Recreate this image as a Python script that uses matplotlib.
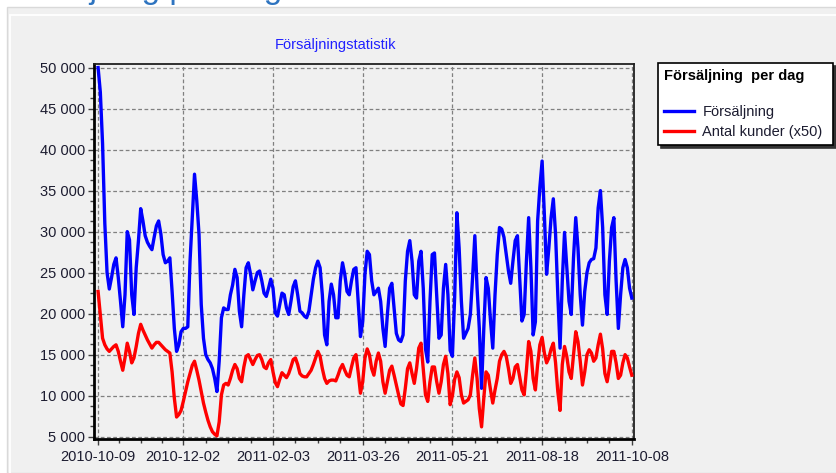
## Försäljningsstatistik per dag

import matplotlib.pyplot as plt
import numpy as np
from matplotlib.patches import Rectangle
from matplotlib.ticker import MultipleLocator, AutoMinorLocator, FuncFormatter

plt.rcParams['font.family'] = ['Liberation Sans', 'DejaVu Sans']

# datum på x-axeln (index i dataserien)
datum = ['2010-10-09', '2010-12-02', '2011-02-03', '2011-03-26',
         '2011-05-21', '2011-08-18', '2011-10-08']
datum_pos = [0, 38, 78, 118, 158, 198, 238]

# försäljning per dag (kr)
forsaljning = [
    50000, 47000, 40700, 31000, 25000, 23000, 24400, 26000, 26800, 24400,
    21500, 18400, 22300, 30000, 29000, 22300, 19900, 25600, 28900, 32800,
    31300, 29500, 28700, 28200, 27800, 29300, 30700, 31300, 29700, 27200,
    26200, 26400, 26800, 22700, 18200, 15400, 16200, 17800, 18200, 18200,
    18400, 26400, 31700, 37000, 33800, 29700, 21100, 17000, 15000, 14400,
    14000, 13300, 12100, 10500, 14200, 19500, 20700, 20500, 20500, 22300,
    23500, 25400, 24400, 20300, 18400, 22300, 25600, 26200, 24800, 22900,
    24000, 25000, 25200, 24000, 22500, 22100, 23100, 24200, 23100, 20100,
    19700, 21100, 22500, 22300, 20700, 19900, 21500, 23300, 24000, 22300,
    20300, 20100, 19700, 19500, 20300, 22300, 24200, 25600, 26400, 25600,
    22300, 17400, 16200, 21500, 23600, 22300, 19500, 19500, 24000, 26200,
    24800, 22700, 22300, 24000, 25400, 25600, 21500, 17200, 19000, 24800,
    27600, 27200, 24000, 22300, 22700, 23100, 21500, 18200, 16000, 19900,
    23100, 23700, 20700, 17600, 16800, 16600, 17400, 24000, 27600, 28900,
    26400, 22300, 21900, 26400, 27600, 23100, 15700, 14100, 21500, 27200,
    27400, 22300, 17000, 17400, 23100, 26000, 22300, 15500, 14800, 22000,
    32300, 28000, 21500, 17000, 17600, 18200, 19900, 24400, 29500, 23100,
    18200, 10900, 18200, 24400, 23100, 19100, 15800, 22300, 27200, 30500,
    30300, 29300, 27200, 25200, 23700, 26400, 28900, 29500, 24400, 19100,
    19900, 26400, 31700, 25600, 17400, 19000, 31300, 35400, 38600, 32100,
    24800, 28000, 31700, 34000, 29700, 22300, 15800, 24000, 29900, 25600,
    21500, 19900, 26800, 31700, 28000, 22300, 18600, 22700, 25000, 26200,
    26600, 26700, 28000, 32900, 35000, 30500, 22300, 19900, 26400, 30500,
    31700, 24000, 18200, 22300, 25600, 26600, 25600, 23100, 21900,
]

# antal kunder per dag, gånger 50
kunder = [
    22700, 19900, 17000, 16200, 15700, 15400, 15700, 16000, 16200, 15400,
    14200, 13100, 14600, 16400, 15400, 14000, 14600, 16000, 17600, 18700,
    18000, 17400, 16800, 16300, 15800, 16200, 16500, 16500, 16200, 15900,
    15600, 15400, 15200, 12900, 9700, 7400, 7700, 8200, 9300, 10500,
    11700, 12700, 13700, 14200, 13100, 11900, 10500, 9100, 8000, 7000,
    6200, 5600, 5300, 5100, 6800, 10100, 11300, 11500, 11300, 12100,
    13100, 13800, 13300, 12100, 11700, 13500, 14800, 15000, 14400, 13800,
    14400, 14900, 15000, 14400, 13500, 13300, 14000, 14400, 12900, 11600,
    11100, 12000, 12800, 12500, 12200, 12700, 13500, 14400, 14600, 13800,
    12700, 12400, 12300, 12300, 12700, 13100, 13800, 14600, 15400, 14800,
    13300, 12100, 11500, 11800, 11900, 11900, 11800, 12500, 13300, 13800,
    13100, 12500, 12300, 13500, 14600, 15000, 12800, 10300, 11700, 14600,
    15700, 15000, 13300, 12500, 14200, 15200, 14200, 11700, 10300, 11700,
    13100, 13600, 12500, 11300, 10100, 9000, 8800, 10900, 13300, 14000,
    12700, 11500, 13300, 15800, 16400, 13300, 10100, 9300, 11700, 13500,
    13500, 11700, 10300, 11700, 13800, 14800, 12700, 8900, 10000, 12000,
    12900, 12200, 10100, 9100, 9300, 9500, 10100, 12500, 14600, 12100,
    8400, 6200, 9700, 12900, 12500, 10700, 9100, 10700, 12100, 14200,
    15000, 15400, 14800, 13300, 11500, 12100, 13500, 13800, 12300, 10700,
    10100, 13100, 16600, 15400, 12100, 10700, 13800, 16200, 17100, 15200,
    14000, 14600, 15700, 16400, 14000, 10500, 8200, 13800, 16000, 14800,
    12900, 12100, 15000, 17800, 16600, 14200, 11300, 12900, 15000, 15600,
    15200, 14200, 14600, 16200, 17500, 15700, 12700, 11700, 13300, 15400,
    15400, 14000, 12100, 12500, 14000, 15000, 14600, 13500, 12500,
]

W, H = 837, 473
x = np.arange(len(forsaljning))

fig = plt.figure(figsize=(W / 100, H / 100), dpi=100, facecolor='white')

# grå panel bakom diagrammet
fig.patches.append(Rectangle((7 / W, 0), 1, 1 - 7 / H, transform=fig.transFigure,
                             facecolor='#f0f0f0', edgecolor='#d9d9d9', lw=1, zorder=-2))
fig.patches.append(Rectangle((9.5 / W, -0.1), 1, 1 - 15 / H + 0.1, transform=fig.transFigure,
                             facecolor='none', edgecolor='white', lw=1.3, zorder=-1))

# rubrik som är avklippt i överkanten (som i originalet)
fig.text(-0.004, 1.004, 'Försäljning per dag', fontsize=24, color='#2e74c0',
         va='baseline', ha='left')

fig.text(335.5 / W, 1 - 45 / H, 'Försäljningstatistik', ha='center', va='center',
         color='#2020ff', fontsize=10.5)

ax = fig.add_axes([94.5 / W, 1 - 439 / H, 540 / W, 375 / H])
ax.set_facecolor('#f0f0f0')

ax.plot(x, forsaljning, color='#0000ff', lw=2.4, label='Försäljning', zorder=3)
ax.plot(x, kunder, color='#ff0000', lw=2.4, label='Antal kunder (x50)', zorder=3)

ax.set_xlim(-1.6, 239.2)
ax.set_ylim(4720, 50430)

ax.set_xticks(datum_pos, datum)
minor = []
for a, b in zip(datum_pos[:-1], datum_pos[1:]):
    minor += list(np.linspace(a, b, 5)[1:-1])
ax.set_xticks(minor, minor=True)

ax.yaxis.set_major_locator(MultipleLocator(5000))
ax.yaxis.set_minor_locator(AutoMinorLocator(4))
ax.yaxis.set_major_formatter(FuncFormatter(lambda v, p: f'{int(v):,}'.replace(',', ' ')))

ax.grid(True, which='major', color='#808080', linestyle=(0, (3, 2)), linewidth=0.9)
ax.set_axisbelow(True)

for s in ['left', 'bottom']:
    ax.spines[s].set_linewidth(2)
    ax.spines[s].set_color('black')
for s in ['top', 'right']:
    ax.spines[s].set_linewidth(1.3)
    ax.spines[s].set_color('#202020')

ax.tick_params(which='major', direction='out', length=4.5, width=1, color='#404040',
               labelsize=10.5, labelcolor='#1c1c30')
ax.tick_params(which='minor', direction='out', length=3, width=1, color='#404040')
ax.tick_params(axis='y', pad=2)
ax.tick_params(axis='x', pad=3.5)

leg = ax.legend(loc='upper left', bbox_to_anchor=(658 / W, 1 - 149 / H, 175 / W, 86 / H),
                bbox_transform=fig.transFigure, mode='expand', borderaxespad=0,
                title='Försäljning  per dag\n',
                title_fontproperties={'weight': 'bold', 'size': 10.5},
                alignment='left', fancybox=False, framealpha=1, edgecolor='black',
                facecolor='white',
                shadow={'color': '#333333', 'alpha': 1, 'ox': 2.5, 'oy': -2.5},
                handlelength=2.05, handletextpad=0.6, fontsize=10.5,
                borderpad=0.4, labelspacing=0.4)
leg.get_frame().set_linewidth(1.2)
for t in leg.get_texts():
    t.set_color('#1c1c30')

fig.savefig('out.png', dpi=100, facecolor=fig.get_facecolor())
